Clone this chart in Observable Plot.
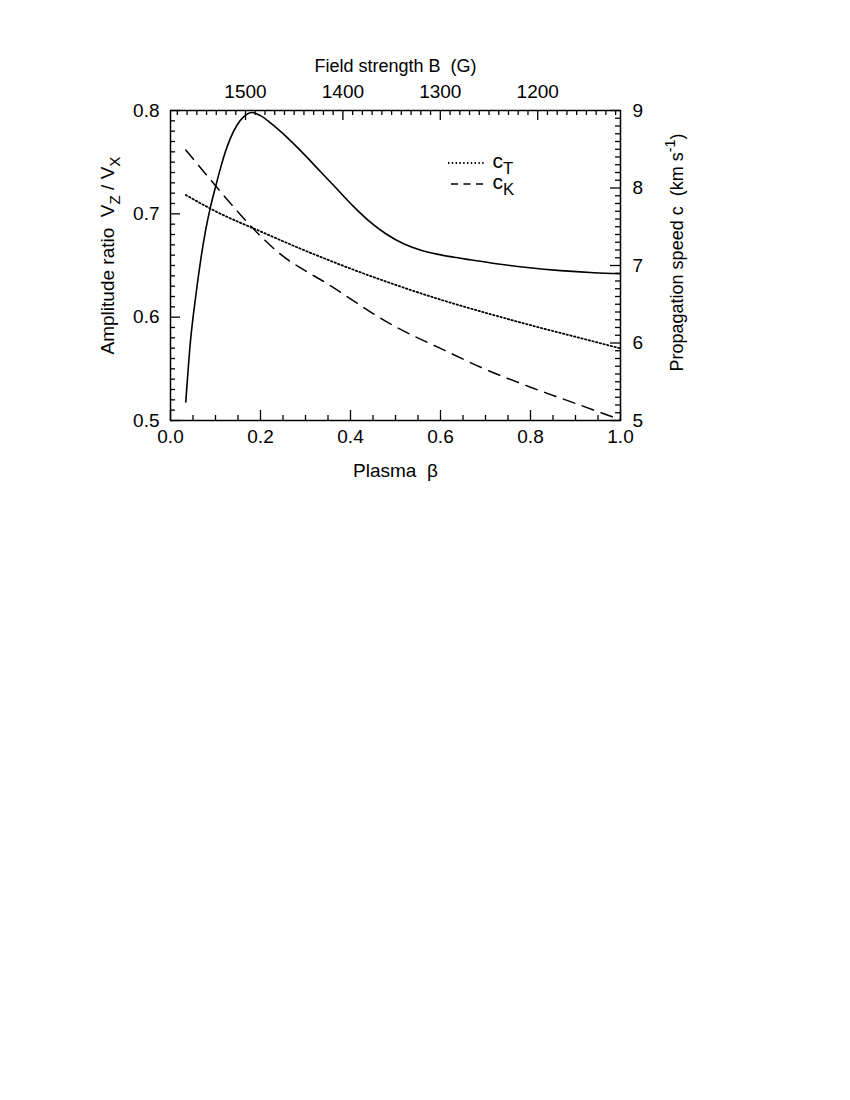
<!DOCTYPE html>
<html><head><meta charset="utf-8">
<script src="https://cdn.jsdelivr.net/npm/d3@7"></script>
<script src="https://cdn.jsdelivr.net/npm/@observablehq/plot@0.6"></script>
<style>body{margin:0;background:#fff;} #chart svg{display:block}</style>
</head><body><div id="chart"></div>
<script>
// ---- data ----
const betaRatio = [0.034,0.044,0.056,0.067,0.078,0.089,0.100,0.111,0.122,0.133,0.148,0.163,0.181,0.200,0.222,0.259,0.296,0.333,0.370,0.407,0.444,0.481,0.518,0.555,0.592,0.630,0.667,0.720,0.793,0.867,0.941,1.000];
const amplitudeRatio = [0.518,0.575,0.620,0.655,0.684,0.707,0.726,0.744,0.760,0.773,0.786,0.794,0.798,0.795,0.788,0.774,0.758,0.741,0.724,0.707,0.692,0.680,0.671,0.665,0.661,0.658,0.6555,0.652,0.648,0.645,0.643,0.642];
const betaT = [0.034,0.1,0.2,0.3,0.4,0.5,0.6,0.7,0.8,0.9,1.0];
const speedT = [7.91,7.70,7.44,7.19,6.96,6.75,6.56,6.39,6.23,6.08,5.93];
const betaK = [0.034,0.1,0.15,0.2,0.25,0.3,0.35,0.4,0.45,0.5,0.6,0.7,0.8,0.9,1.0];
const speedK = [8.49,8.03,7.69,7.38,7.12,6.93,6.76,6.57,6.38,6.21,5.93,5.66,5.43,5.22,5.01];

const betaTicks = [0, 0.2, 0.4, 0.6, 0.8, 1.0];
const ratioTicks = [0.5, 0.6, 0.7, 0.8];
const speedTicks = [5, 6, 7, 8, 9];
const fieldTicks = [1500, 1400, 1300, 1200];
const fieldAtBeta0 = 1577, fieldPerBeta = 462;   // top axis: B = 1577 - 462*beta
const ratioDomain = [0.5, 0.8], speedDomain = [5, 9];

// ---- helpers ----
const speedToRatio = c => ratioDomain[0] + (c - speedDomain[0]) * (ratioDomain[1]-ratioDomain[0]) / (speedDomain[1]-speedDomain[0]);
const ratioToSpeed = r => speedDomain[0] + (r - ratioDomain[0]) * (speedDomain[1]-speedDomain[0]) / (ratioDomain[1]-ratioDomain[0]);
const fieldToBeta = B => (fieldAtBeta0 - B) / fieldPerBeta;
const betaToField = b => Math.round((fieldAtBeta0 - b*fieldPerBeta)/10)*10;

const ratioData = betaRatio.map((b,i) => ({beta:b, value:amplitudeRatio[i]}));
const tData = betaT.map((b,i) => ({beta:b, c:speedT[i]}));
const kData = betaK.map((b,i) => ({beta:b, c:speedK[i]}));

const W = 850, H = 500, mL = 170, mR = 230, mT = 110, mB = 80;
const frameW = W - mL - mR, frameH = H - mT - mB;

const betaMinor = d3.range(0, 1.0001, 0.05).filter(v => Math.abs(v/0.2 - Math.round(v/0.2)) > 1e-6);
const ratioMinor = d3.range(0.5, 0.8001, 0.01).filter(v => Math.abs(v*10 - Math.round(v*10)) > 1e-6);
const speedMinor = d3.range(5, 9.0001, 0.1).filter(v => Math.abs(v - Math.round(v)) > 1e-6).map(speedToRatio);
const fieldMinor = d3.range(1120, 1580, 10).filter(v => v % 100 !== 0).map(fieldToBeta).filter(b => b > 0.001 && b < 0.999);

const majorLen = 10, minorLen = 5;

const chart = Plot.plot({
  width: W, height: H,
  marginLeft: mL, marginRight: mR, marginTop: mT, marginBottom: mB,
  x: {domain: [0, 1]},
  y: {domain: ratioDomain},
  style: {fontFamily: "'Liberation Sans', Arial, sans-serif", fontSize: "19px", color: "black", background: "white"},
  marks: [
    // tick labels
    Plot.axisX({anchor: "bottom", ticks: betaTicks, tickFormat: d => d.toFixed(1), tickSize: 0, tickPadding: 9, label: null}),
    Plot.axisX({anchor: "top", ticks: fieldTicks.map(fieldToBeta), tickFormat: d => String(betaToField(d)), tickSize: 0, tickPadding: 13, label: null}),
    Plot.axisY({anchor: "left", ticks: ratioTicks, tickFormat: d => d.toFixed(1), tickSize: 0, tickPadding: 11, label: null}),
    Plot.axisY({anchor: "right", ticks: speedTicks.map(speedToRatio), tickFormat: d => String(Math.round(ratioToSpeed(d))), tickSize: 0, tickPadding: 12, label: null}),
    // inward ticks
    Plot.tickX(betaTicks, {x: d => d, insetTop: frameH - majorLen, strokeWidth: 1.3}),
    Plot.tickX(betaMinor, {x: d => d, insetTop: frameH - minorLen, strokeWidth: 1.3}),
    Plot.tickX(fieldTicks.map(fieldToBeta), {x: d => d, insetBottom: frameH - majorLen, strokeWidth: 1.3}),
    Plot.tickX(fieldMinor, {x: d => d, insetBottom: frameH - minorLen, strokeWidth: 1.3}),
    Plot.tickY(ratioTicks, {y: d => d, insetRight: frameW - majorLen, strokeWidth: 1.3}),
    Plot.tickY(ratioMinor, {y: d => d, insetRight: frameW - minorLen, strokeWidth: 1.3}),
    Plot.tickY(speedTicks.map(speedToRatio), {y: d => d, insetLeft: frameW - majorLen, strokeWidth: 1.3}),
    Plot.tickY(speedMinor, {y: d => d, insetLeft: frameW - minorLen, strokeWidth: 1.3}),
    Plot.frame({stroke: "black", strokeWidth: 1.5}),
    // curves
    Plot.line(ratioData, {x: "beta", y: "value", stroke: "black", strokeWidth: 1.6, curve: "monotone-x"}),
    Plot.line(tData, {x: "beta", y: d => speedToRatio(d.c), stroke: "black", strokeWidth: 1.8, strokeDasharray: "1.4,2.4", curve: "monotone-x"}),
    Plot.line(kData, {x: "beta", y: d => speedToRatio(d.c), stroke: "black", strokeWidth: 1.5, strokeDasharray: "12,8", curve: "monotone-x"}),
    // axis titles
    Plot.text(["Plasma  β"], {text: d => d, frameAnchor: "bottom", lineAnchor: "middle", dy: 50, fontSize: 19}),
    Plot.text(["Field strength B  (G)"], {text: d => d, frameAnchor: "top", lineAnchor: "middle", dy: -44, fontSize: 18}),
    Plot.text(["Amplitude ratio  V_{Z} / V_{X}"], {text: d => d, frameAnchor: "left", textAnchor: "middle", lineAnchor: "middle", dx: -63, dy: -10, rotate: -90, fontSize: 19}),
    Plot.text(["Propagation speed c  (km s^{-1})"], {text: d => d, frameAnchor: "right", textAnchor: "middle", lineAnchor: "middle", dx: 57, dy: -13, rotate: -90, fontSize: 18}),
    // legend labels
    Plot.text(["c_{T}"], {text: d => d, frameAnchor: "top-left", textAnchor: "start", lineAnchor: "middle", dx: 322, dy: 51, fontSize: 21}),
    Plot.text(["c_{K}"], {text: d => d, frameAnchor: "top-left", textAnchor: "start", lineAnchor: "middle", dx: 322, dy: 72, fontSize: 21})
  ]
});

// legend line samples (decoration, drawn in pixel space next to the labels)
(function addLegend(svg){
  const ns = "http://www.w3.org/2000/svg";
  const items = [{dy: 53, x1: 278, dash: "1.4,2.4", w: 1.8}, {dy: 74, x1: 281, dash: "7,5.5", w: 1.5}];
  for (const it of items) {
    const l = document.createElementNS(ns, "line");
    l.setAttribute("x1", mL + it.x1); l.setAttribute("x2", mL + 314);
    l.setAttribute("y1", mT + it.dy); l.setAttribute("y2", mT + it.dy);
    l.setAttribute("stroke", "black"); l.setAttribute("stroke-width", it.w);
    l.setAttribute("stroke-dasharray", it.dash);
    svg.appendChild(l);
  }
})(chart);

// rich text: _{sub} and ^{sup}
function richText(el, s) {
  const ns = "http://www.w3.org/2000/svg";
  while (el.firstChild) el.removeChild(el.firstChild);
  const re = /([_^])\{([^}]*)\}/g;
  let last = 0, m, pending = 0;
  const add = (txt, dy, small) => {
    const t = document.createElementNS(ns, "tspan");
    if (dy) t.setAttribute("dy", dy);
    if (small) t.setAttribute("font-size", "0.8em");
    t.textContent = txt; el.appendChild(t);
  };
  while ((m = re.exec(s))) {
    if (m.index > last) { add(s.slice(last, m.index), pending ? -pending : 0, false); pending = 0; }
    const d = m[1] === "_" ? 6 : -8;
    add(m[2], d - pending, true); pending = d;
    last = re.lastIndex;
  }
  if (last < s.length) add(s.slice(last), pending ? -pending : 0, false);
}
chart.querySelectorAll("text").forEach(el => {
  const s = el.textContent;
  if (/[_^]\{/.test(s)) richText(el, s);
});

document.getElementById("chart").appendChild(chart);
</script>
</body></html>
